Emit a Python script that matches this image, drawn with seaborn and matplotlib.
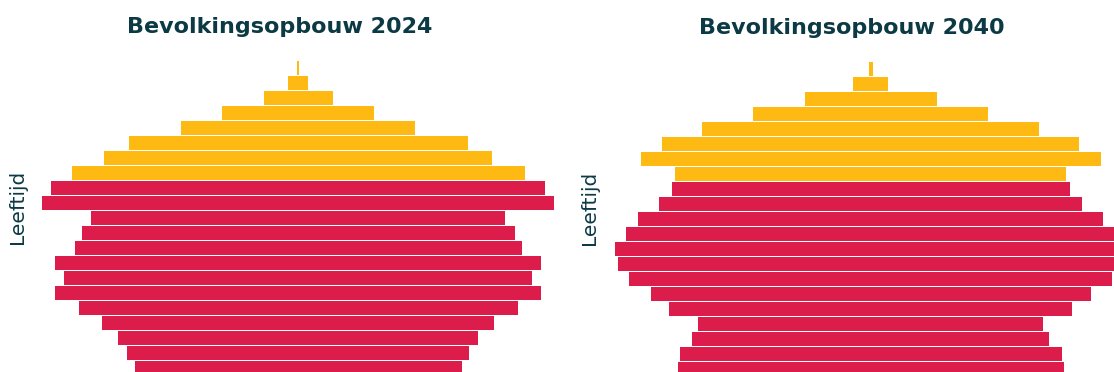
import matplotlib
matplotlib.use("Agg")
import matplotlib.pyplot as plt
import seaborn as sns
import pandas as pd

# Age groups, oldest at the top
age_groups = ["100+", "95-99", "90-94", "85-89", "80-84", "75-79", "70-74",
              "65-69", "60-64", "55-59", "50-54", "45-49", "40-44", "35-39",
              "30-34", "25-29", "20-24", "15-19", "10-14", "5-9", "0-4"]

# Population per age group (index, men + women together)
population_2024 = [2, 20, 69, 152, 234, 339, 388, 453, 494, 512, 414,
                   433, 447, 486, 468, 486, 439, 392, 360, 342, 327]
population_2040 = [4, 35, 132, 235, 337, 417, 460, 391, 398, 423, 465,
                   490, 512, 506, 483, 440, 403, 345, 357, 382, 386]

titles = ["Bevolkingsopbouw 2024", "Bevolkingsopbouw 2040"]

RED = "#DC1C4A"
YELLOW = "#FEB913"
DARK = "#0B3944"
palette = {"65+": YELLOW, "0-64": RED}

sns.set_theme(style="white")
plt.rcParams["font.family"] = ["DejaVu Sans"]


def lower_age(label):
    return int(label.rstrip("+").split("-")[0])


def build_frame(values):
    df = pd.DataFrame({"leeftijd": age_groups, "totaal": values})
    df["groep"] = ["65+" if lower_age(a) >= 65 else "0-64" for a in age_groups]
    df["links"] = -df["totaal"] / 2
    df["rechts"] = df["totaal"] / 2
    return df


W, H = 1114, 372
fig = plt.figure(figsize=(W / 100, H / 100), dpi=100)
ax1 = fig.add_axes([5 / W, -3.5 / H, 549 / W, 315 / H])
ax2 = fig.add_axes([577.5 / W, -4.5 / H, 549 / W, 315 / H])

for ax, values, title in zip([ax1, ax2], [population_2024, population_2040], titles):
    df = build_frame(values)
    for side in ["links", "rechts"]:
        sns.barplot(data=df, x=side, y="leeftijd", hue="groep", palette=palette,
                    order=age_groups, orient="h", dodge=False, width=0.93,
                    saturation=1, legend=False, linewidth=0, ax=ax)
    ax.set_xlim(-293, 256)
    ax.set_ylim(20.5, -0.5)
    ax.set_xticks([])
    ax.set_yticks([])
    ax.set_xlabel("")
    ax.set_ylabel("Leeftijd", fontsize=14.5, color=DARK)
    ax.yaxis.set_label_coords(0.040, 0.535)
    ax.set_title(title, fontsize=16, fontweight="bold", color=DARK, pad=19.6)
    sns.despine(ax=ax, left=True, bottom=True)

fig.savefig("out.png", dpi=100)
